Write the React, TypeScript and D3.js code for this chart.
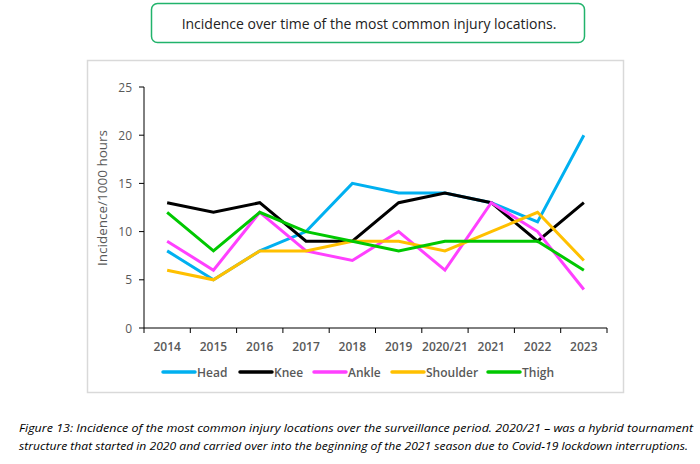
import React from "react";
import * as d3 from "d3";

const years = ["2014", "2015", "2016", "2017", "2018", "2019", "2020/21", "2021", "2022", "2023"];
const head = [8, 5, 8, 10, 15, 14, 14, 13, 11, 20];
const knee = [13, 12, 13, 9, 9, 13, 14, 13, 9, 13];
const ankle = [9, 6, 12, 8, 7, 10, 6, 13, 10, 4];
const shoulder = [6, 5, 8, 8, 9, 9, 8, 10, 12, 7];
const thigh = [12, 8, 12, 10, 9, 8, 9, 9, 9, 6];
const yTicks = [0, 5, 10, 15, 20, 25];

const series = [
  { name: "Head", values: head, color: "#00B0F0" },
  { name: "Knee", values: knee, color: "#000000" },
  { name: "Ankle", values: ankle, color: "#FF40FF" },
  { name: "Shoulder", values: shoulder, color: "#FFC000" },
  { name: "Thigh", values: thigh, color: "#00C800" },
];

const WIDTH = 700;
const HEIGHT = 464;
const PLOT = { left: 144, right: 607, top: 87, bottom: 328 };
const FONT = "'Open Sans', sans-serif";
const GREY = "#595959";

// legend x positions (line start)
const LEGEND_X = [163, 240, 314, 392, 488];

export default function App() {
  const x = d3.scaleBand().domain(years).range([PLOT.left, PLOT.right]);
  const y = d3.scaleLinear().domain([0, 25]).range([PLOT.bottom, PLOT.top]);

  const line = d3
    .line<number>()
    .x((_, i) => (x(years[i]) ?? 0) + x.bandwidth() / 2)
    .y((d) => y(d));

  const tickEdges = [...years.map((d) => x(d) ?? 0), PLOT.right];

  return (
    <svg
      width={WIDTH}
      height={HEIGHT}
      style={{ position: "absolute", left: 0, top: 0, background: "#fff" }}
    >
      {/* title box */}
      <rect x={151.5} y={3.5} width={433} height={39} rx={6} fill="#fff" stroke="#21B36B" strokeWidth={1.5} />
      <text x={369} y={23} textAnchor="middle" dominantBaseline="central" fontFamily={FONT} fontSize={14} fill="#222">
        Incidence over time of the most common injury locations.
      </text>

      {/* chart frame */}
      <rect x={87.5} y={60.5} width={536} height={332} fill="#fff" stroke="#D9D9D9" strokeWidth={1.5} />

      {/* y axis */}
      <line x1={PLOT.left} x2={PLOT.left} y1={PLOT.top} y2={PLOT.bottom} stroke="#000" />
      {yTicks.map((t) => (
        <g key={t}>
          <line x1={PLOT.left - 5} x2={PLOT.left} y1={y(t)} y2={y(t)} stroke="#000" />
          <text x={PLOT.left - 12} y={y(t)} textAnchor="end" dominantBaseline="central" fontFamily={FONT} fontSize={12} fill={GREY}>
            {t}
          </text>
        </g>
      ))}
      <text
        transform={`translate(102,198) rotate(-90)`}
        textAnchor="middle"
        dominantBaseline="central"
        fontFamily={FONT}
        fontSize={13.5}
        fill={GREY}
      >
        Incidence/1000 hours
      </text>

      {/* x axis */}
      <line x1={PLOT.left} x2={PLOT.right} y1={PLOT.bottom} y2={PLOT.bottom} stroke="#000" />
      {tickEdges.map((t, i) => (
        <line key={i} x1={t} x2={t} y1={PLOT.bottom} y2={PLOT.bottom + 5} stroke="#000" />
      ))}
      {years.map((d) => (
        <text
          key={d}
          x={(x(d) ?? 0) + x.bandwidth() / 2}
          y={346}
          textAnchor="middle"
          dominantBaseline="central"
          fontFamily={FONT}
          fontSize={12}
          fontWeight={600}
          fill={GREY}
        >
          {d}
        </text>
      ))}

      {/* lines */}
      {series.map((s) => (
        <path key={s.name} d={line(s.values) ?? ""} fill="none" stroke={s.color} strokeWidth={3} strokeLinejoin="miter" />
      ))}

      {/* legend */}
      {series.map((s, i) => (
        <g key={s.name}>
          <line x1={LEGEND_X[i]} x2={LEGEND_X[i] + 32} y1={372} y2={372} stroke={s.color} strokeWidth={3.5} strokeLinecap="round" />
          <text x={LEGEND_X[i] + 34} y={372} dominantBaseline="central" fontFamily={FONT} fontSize={12} fontWeight={600} fill={GREY}>
            {s.name}
          </text>
        </g>
      ))}

      {/* caption */}
      <text x={19} y={427} dominantBaseline="central" fontFamily={FONT} fontStyle="italic" fontSize={11} fill="#000" textLength={674} lengthAdjust="spacingAndGlyphs">
        Figure 13: Incidence of the most common injury locations over the surveillance period. 2020/21 – was a hybrid tournament
      </text>
      <text x={19} y={445} dominantBaseline="central" fontFamily={FONT} fontStyle="italic" fontSize={11} fill="#000" textLength={669} lengthAdjust="spacingAndGlyphs">
        structure that started in 2020 and carried over into the beginning of the 2021 season due to Covid-19 lockdown interruptions.
      </text>
    </svg>
  );
}
